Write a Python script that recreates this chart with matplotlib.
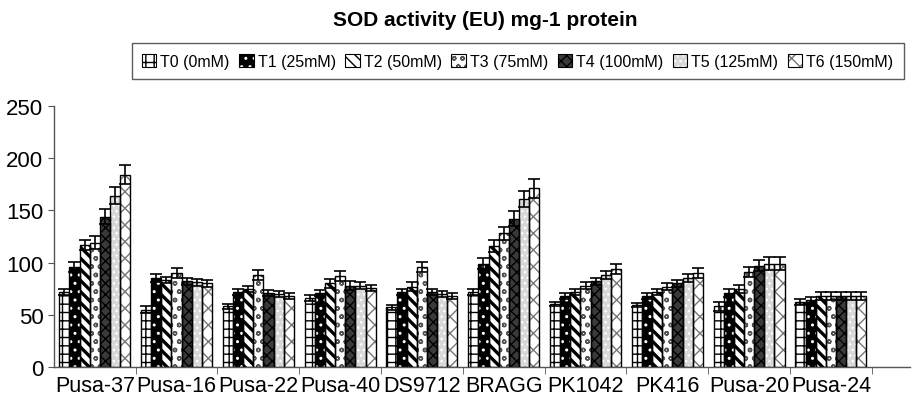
import matplotlib
matplotlib.use("Agg")
import matplotlib.pyplot as plt
import numpy as np
from matplotlib.patches import Patch
from matplotlib.legend_handler import HandlerTuple

plt.rcParams['font.family'] = ['Liberation Sans', 'DejaVu Sans']
plt.rcParams['hatch.linewidth'] = 1.0

categories = ["Pusa-37", "Pusa-16", "Pusa-22", "Pusa-40", "DS9712",
              "BRAGG", "PK1042", "PK416", "Pusa-20", "Pusa-24"]
series = ["T0 (0mM)", "T1 (25mM)", "T2 (50mM)", "T3 (75mM)",
          "T4 (100mM)", "T5 (125mM)", "T6 (150mM)"]

T0 = [72, 55, 58, 66, 57, 72, 60, 59, 58, 62]
T1 = [96, 85, 72, 71, 72, 99, 68, 68, 71, 64]
T2 = [117, 83, 75, 80, 77, 116, 72, 72, 75, 68]
T3 = [119, 90, 88, 87, 96, 128, 78, 77, 91, 68]
T4 = [144, 82, 71, 78, 72, 142, 82, 80, 97, 68]
T5 = [164, 81, 70, 78, 70, 161, 88, 85, 99, 68]
T6 = [184, 80, 68, 76, 68, 171, 94, 90, 99, 68]

E0 = [3, 3, 2, 3, 2, 3, 2, 2, 4, 3]
E1 = [5, 4, 3, 3, 3, 5, 3, 3, 4, 3]
E2 = [5, 3, 3, 4, 4, 6, 3, 3, 4, 4]
E3 = [6, 5, 5, 5, 5, 6, 3, 3, 5, 4]
E4 = [7, 3, 3, 4, 3, 7, 3, 3, 5, 4]
E5 = [8, 3, 3, 3, 3, 8, 4, 4, 6, 4]
E6 = [9, 3, 3, 3, 3, 9, 5, 5, 6, 4]

values = [T0, T1, T2, T3, T4, T5, T6]
errors = [E0, E1, E2, E3, E4, E5, E6]

# style: (facecolor, hatch, hatch colour, hatch linewidth)
styles = [
    ("white", "++", "black", 1.0),
    ("black", "..", "white", 1.0),
    ("white", "\\\\\\", "black", 2.4),
    ("white", "oo", "#555555", 1.0),
    ("#3a3a3a", "xxx", "black", 1.0),
    ("#d8d8d8", "...", "white", 1.0),
    ("white", "xx", "#777777", 1.0),
]

fig = plt.figure(figsize=(9.13, 4.06), dpi=100)
ax = fig.add_axes([0.059, 0.0936, 0.938, 0.643])

x = np.arange(len(categories))
w = 0.124
handles = []
for i, (vals, errs) in enumerate(zip(values, errors)):
    fc, hatch, hc, hlw = styles[i]
    pos = x + (i - 3) * w
    with plt.rc_context({'hatch.linewidth': hlw}):
        ax.bar(pos, vals, w, color=fc, edgecolor=hc, hatch=hatch, linewidth=0, zorder=2)
        hp = Patch(facecolor=fc, edgecolor=hc, hatch=hatch, linewidth=0)
    ax.bar(pos, vals, w, fill=False, edgecolor="black", linewidth=1.0, zorder=3)
    ax.errorbar(pos, vals, yerr=errs, fmt="none", ecolor="black", elinewidth=1.2,
                capsize=4, capthick=1.2, zorder=4)
    handles.append((hp, Patch(fill=False, edgecolor="black", linewidth=0.8)))

ax.set_ylim(0, 250)
ax.set_xlim(-0.5, 9.97)
ax.set_yticks([0, 50, 100, 150, 200, 250])
ax.set_xticks(x)
ax.set_xticklabels(categories)
ax.set_xticks(np.arange(0.5, 10, 1.0), minor=True)
ax.tick_params(axis="x", which="major", length=0, labelsize=15.5, pad=6)
ax.tick_params(axis="x", which="minor", length=5, color="#555555", direction="out")
ax.tick_params(axis="y", labelsize=16, length=4, color="#555555")
for s in ["top", "right"]:
    ax.spines[s].set_visible(False)
for s in ["left", "bottom"]:
    ax.spines[s].set_color("#555555")
    ax.spines[s].set_linewidth(1.0)

fig.text(0.532, 0.95, "SOD activity (EU) mg-1 protein", ha="center", va="center",
         fontsize=15, fontweight="bold")

leg = fig.legend(handles, series, loc="center", bbox_to_anchor=(0.567, 0.847), ncol=7,
                 frameon=True, fancybox=False, edgecolor="#333333", fontsize=11.5,
                 handlelength=0.9, handleheight=0.9, handletextpad=0.25, columnspacing=0.6,
                 borderpad=0.65, handler_map={tuple: HandlerTuple(ndivide=1, pad=0)})
leg.get_frame().set_linewidth(1.0)

fig.savefig("out.png", dpi=100)
